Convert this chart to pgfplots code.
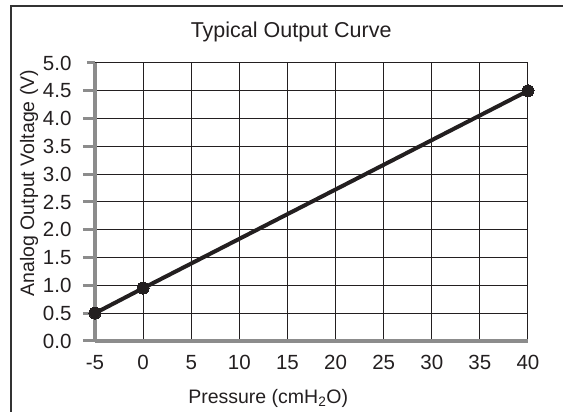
\documentclass[border=0pt]{standalone}
\usepackage{pgfplots}
\pgfplotsset{compat=1.18}
\usepackage{fontspec}
\setmainfont{Liberation Sans}

\definecolor{ink}{HTML}{231F20}
\definecolor{axisgray}{HTML}{8C8C8C}
\definecolor{framegray}{HTML}{333333}

\begin{document}
\begin{tikzpicture}
  % page = 563 x 412 px, 1px = 1pt, origin at lower left of the plot area
  \useasboundingbox (-95pt,-71pt) rectangle (468pt,341pt);
  \draw[framegray, line width=2pt] (-84pt,-72pt) -- (-84pt,335pt) -- (469pt,335pt);
  \begin{axis}[
      at={(0,0)}, anchor=south west,
      scale only axis,
      width=433pt, height=278pt,
      xmin=-5, xmax=40, ymin=0, ymax=5,
      xtick={-5,0,...,40},
      ytick={0,0.5,...,5},
      yticklabel style={xshift=-8pt,
        /pgf/number format/.cd, fixed, fixed zerofill, precision=1},
      /pgf/number format/assume math mode=true,
      ticklabel style={font=\fontsize{20.5}{24}\selectfont, text=ink},
      axis x line*=bottom, axis y line*=left,
      axis line style={-, draw=axisgray, line width=3.5pt},
      tick align=outside,
      major tick length=12pt,
      xtick style={draw=none},
      ytick style={draw=axisgray, line width=3pt, shorten <=4pt},
      xticklabel style={yshift=1pt},
      grid=major,
      major grid style={draw=ink, line width=1pt},
      clip=false,
      title={Typical Output Curve},
      title style={font=\fontsize{21.5}{25}\selectfont, text=ink,
        at={(axis description cs:0.453,1.09)}, anchor=center},
      xlabel={Pressure (cmH\textsubscript{2}O)},
      xlabel style={font=\fontsize{19.5}{23}\selectfont, text=ink,
        at={(axis description cs:0.4,-0.205)}, anchor=center},
      ylabel={Analog Output Voltage (V)},
      ylabel style={font=\fontsize{19.5}{23}\selectfont, text=ink,
        at={(axis description cs:-0.152,0.568)}, anchor=center, rotate=0},
    ]
    \addplot[ink, line width=4pt, mark=*, mark size=6pt,
      mark options={fill=ink, draw=ink, line width=0pt}]
      coordinates {(-5,0.5) (0,0.95) (40,4.5)};
  \end{axis}
\end{tikzpicture}
\end{document}
